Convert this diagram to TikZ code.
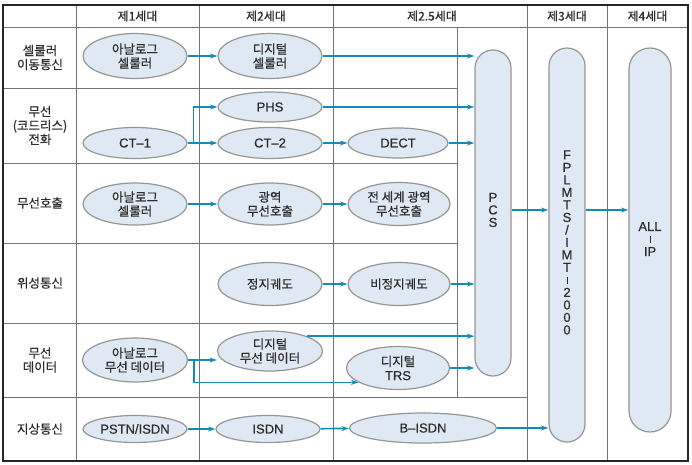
\documentclass[tikz,border=0pt]{standalone}
\usepackage{fontspec}
\setmainfont{Noto Sans CJK KR}[FakeBold=0.6]
\newfontfamily\lat{Liberation Sans}[FakeBold=0.5]
\usetikzlibrary{shapes.geometric,arrows.meta}
\definecolor{elfill}{RGB}{222,233,243}
\definecolor{elline}{RGB}{150,150,150}
\definecolor{arr}{RGB}{20,140,185}
\definecolor{gridc}{RGB}{115,115,115}
\definecolor{txt}{RGB}{45,45,45}
\newcommand{\vdashmark}{\rule[0.5pt]{0.8pt}{6.5pt}}
\begin{document}
\begin{tikzpicture}[x=1pt,y=-1pt,
  ell/.style={ellipse,draw=elline,fill=elfill,line width=1.2pt,inner sep=0pt,
    minimum width=104pt,minimum height=44pt,align=center,
    font=\fontsize{12.5}{14}\selectfont,text=txt},
  pill/.style={rectangle,draw=elline,fill=elfill,line width=1.2pt,
    rounded corners=18pt,minimum width=36pt,inner sep=0pt},
  conn/.style={draw=arr,line width=1.7pt,-{Stealth[length=7.5pt,width=5pt]}},
  gridline/.style={draw=gridc,line width=0.8pt},
  hdr/.style={font=\fontsize{12}{13}\selectfont,text=txt,inner sep=0pt},
  rowlab/.style={font=\fontsize{12.5}{14}\selectfont,text=txt,align=center,inner sep=0pt},
  vtext/.style={font=\lat\fontsize{13}{12.5}\selectfont,text=txt,align=center,inner sep=0pt}]
\useasboundingbox (0,0) rectangle (692,464);
\fill[white] (0,0) rectangle (692,464);
% grid
\draw[gridline] (3,27) -- (688,27);
\foreach \x in {76,199,333,527,607} \draw[gridline] (\x,5) -- (\x,461);
\draw[gridline] (457,27) -- (457,397);
\foreach \y in {88,163,243,323} \draw[gridline] (3,\y) -- (457,\y);
\draw[gridline] (3,397) -- (527,397);
\draw[line width=1.3pt,black!85] (3,5) rectangle (688,461);
% headers
\node[hdr] (h1) at (137.5,16) {제1세대};
\node[hdr] (h2) at (266,16) {제2세대};
\node[hdr] (h25) at (432,16) {제2.5세대};
\node[hdr] (h3) at (567,16) {제3세대};
\node[hdr] (h4) at (647.5,16) {제4세대};
% row labels
\node[rowlab] (r1) at (40,57.5) {셀룰러\\이동통신};
\node[rowlab] (r2) at (40,125.5) {무선\\(코드리스)\\전화};
\node[rowlab] (r3) at (40,203) {무선호출};
\node[rowlab] (r4) at (40,283) {위성통신};
\node[rowlab] (r5) at (40,360) {무선\\데이터};
\node[rowlab] (r6) at (40,429) {지상통신};
% pills
\node[pill,minimum height=326pt] (pcs) at (493,213) {};
\node[pill,minimum height=394pt] (fp) at (567,245) {};
\node[pill,minimum height=384pt,minimum width=42pt,rounded corners=21pt] (allip) at (650,240) {};
\node[vtext] (pcst) at (493,210) {P\\C\\S};
\node[vtext] (fpt) at (567,242.5) {F\\P\\L\\M\\T\\S\\/\\I\\M\\T\\\vdashmark\\2\\0\\0\\0};
\node[vtext] (allt) at (650,239) {ALL\\\vdashmark\\IP};
% ellipses
\node[ell,minimum height=45pt] (a1) at (135,56) {아날로그\\셀룰러};
\node[ell,minimum height=45pt] (d1) at (270,56) {디지털\\셀룰러};
\node[ell,minimum height=30pt,font=\lat\fontsize{13}{14}\selectfont] (phs) at (270,107) {PHS};
\node[ell,minimum height=31pt,font=\lat\fontsize{13}{14}\selectfont] (ct1) at (135,143) {CT–1};
\node[ell,minimum height=31pt,font=\lat\fontsize{13}{14}\selectfont] (ct2) at (270,143) {CT–2};
\node[ell,minimum height=30pt,minimum width=100pt,font=\lat\fontsize{13}{14}\selectfont] (dect) at (398,143) {DECT};
\node[ell,minimum height=42pt] (a3) at (135,204) {아날로그\\셀룰러};
\node[ell,minimum height=42pt] (gw) at (270,204) {광역\\무선호출};
\node[ell,minimum height=43pt,minimum width=102pt] (ww) at (399,204) {전 세계 광역\\무선호출};
\node[ell,minimum height=43pt] (geo) at (270,284) {정지궤도};
\node[ell,minimum height=43pt,minimum width=102pt] (ngeo) at (399,284) {비정지궤도};
\node[ell,minimum height=44pt,minimum width=105pt] (ad) at (135,360) {아날로그\\무선 데이터};
\node[ell,minimum height=40pt,minimum width=105pt] (dwd) at (270,351) {디지털\\무선 데이터};
\node[ell,minimum height=43pt,minimum width=103pt] (trs) at (398,368) {디지털\\{\lat\fontsize{13}{14}\selectfont TRS}};
\node[ell,minimum height=27pt,font=\lat\fontsize{13}{14}\selectfont] (pstn) at (135,429) {PSTN/ISDN};
\node[ell,minimum height=27pt,font=\lat\fontsize{13}{14}\selectfont] (isdn) at (268,429) {ISDN};
\node[ell,minimum height=30pt,minimum width=147pt,font=\lat\fontsize{13}{14}\selectfont] (bisdn) at (423,428) {B–ISDN};
% connectors
\draw[conn] (a1) -- (d1);
\draw[conn] (d1.east) -- (d1.east -| pcs.west);
\draw[conn] (ct1) -- (ct2);
\draw[conn] (ct1.east) -- ++(6,0) |- (phs.west);
\draw[conn] (phs.east) -- (phs.east -| pcs.west);
\draw[conn] (ct2) -- (dect);
\draw[conn] (dect.east) -- (dect.east -| pcs.west);
\draw[conn] (a3) -- (gw);
\draw[conn] (gw) -- (ww);
\draw[conn] (geo) -- (ngeo);
\draw[conn] (ngeo.east) -- (ngeo.east -| pcs.west);
\draw[conn] (ad.east) -- (ad.east -| dwd.west);
\draw[conn] (ad.east) -- ++(6,0) |- (trs.200);
\draw[conn] (dwd.22) -- (dwd.22 -| pcs.west);
\draw[conn] (trs.east) -- (trs.east -| pcs.west);
\draw[conn] (pstn) -- (isdn);
\draw[conn] (isdn) -- (bisdn);
\draw[conn] (bisdn.east) -- (bisdn.east -| fp.west);
\coordinate (mid) at (493,210);
\draw[conn] (mid -| pcs.east) -- (mid -| fp.west);
\draw[conn] (mid -| fp.east) -- (mid -| allip.west);
\end{tikzpicture}
\end{document}
